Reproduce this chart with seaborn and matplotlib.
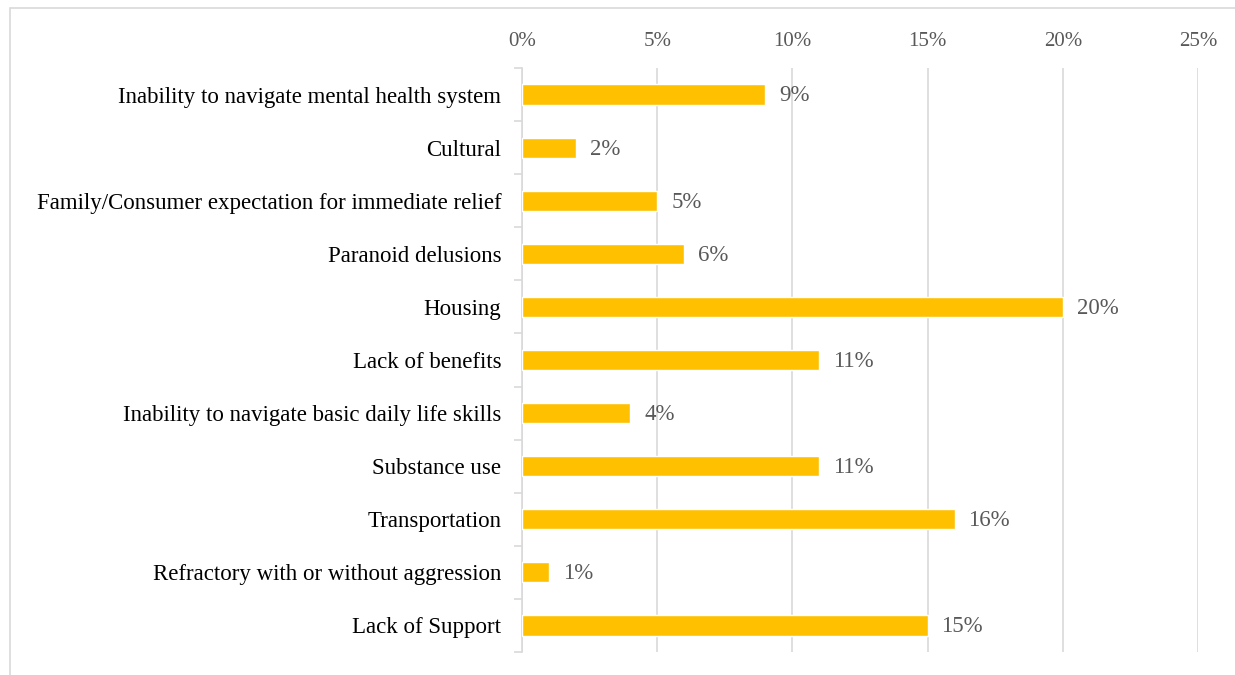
import matplotlib
matplotlib.use("Agg")
import matplotlib.pyplot as plt
from matplotlib.patches import Rectangle
from matplotlib.ticker import FixedLocator
import seaborn as sns
import pandas as pd

categories = [
    "Inability to navigate mental health system",
    "Cultural",
    "Family/Consumer expectation for immediate relief",
    "Paranoid delusions",
    "Housing",
    "Lack of benefits",
    "Inability to navigate basic daily life skills",
    "Substance use",
    "Transportation",
    "Refractory with or without aggression",
    "Lack of Support",
]
percentages = [9, 2, 5, 6, 20, 11, 4, 11, 16, 1, 15]
x_ticks = [0, 5, 10, 15, 20, 25]
x_tick_labels = ["0%", "5%", "10%", "15%", "20%", "25%"]

df = pd.DataFrame({"category": categories, "pct": percentages})

sns.set_theme(style="white")
plt.rcParams["font.family"] = ["Liberation Serif", "DejaVu Serif"]

W, H = 1235, 675
fig = plt.figure(figsize=(W / 100, H / 100), dpi=100)
fig.patch.set_facecolor("white")

# light frame around the chart area
fig.add_artist(Rectangle((10 / W, -0.01), 1.02, 1 - 8 / H + 0.01,
                         transform=fig.transFigure, fill=False,
                         edgecolor="#d9d9d9", linewidth=1.2))

ax = fig.add_axes([522 / W, 1 - 652 / H, (1198 - 522) / W, (652 - 68) / H])

sns.barplot(data=df, x="pct", y="category", orient="h", color="#FFC000",
            saturation=1, width=0.38, ax=ax, zorder=3)

ax.set_xlim(0, 25)
ax.set_ylim(len(categories) - 0.5, -0.5)
ax.set_xticks(x_ticks)
ax.set_xticklabels(x_tick_labels)
ax.xaxis.tick_top()
ax.tick_params(axis="x", length=0, pad=12, labelsize=15, labelcolor="#595959")
ax.grid(axis="x", color="#d9d9d9", linewidth=1.2, zorder=0)
ax.set_axisbelow(True)

ax.set_yticks(range(len(categories)))
ax.set_yticklabels(categories)
ax.tick_params(axis="y", which="major", length=0, pad=15, labelsize=16.5, labelcolor="black")
ax.yaxis.set_minor_locator(FixedLocator([i - 0.5 for i in range(len(categories) + 1)]))
ax.tick_params(axis="y", which="minor", length=6, width=1.2, color="#d9d9d9", left=True)

ax.set_xlabel("")
ax.set_ylabel("")
for s in ["top", "right", "bottom"]:
    ax.spines[s].set_visible(False)
ax.spines["left"].set_color("#d9d9d9")
ax.spines["left"].set_linewidth(1.2)

for i, v in enumerate(percentages):
    ax.annotate(f"{v}%", xy=(v, i), xytext=(10, -1), textcoords="offset points",
                va="center", ha="left", fontsize=16.5, color="#595959")

fig.savefig("out.png", dpi=100, facecolor="white")
